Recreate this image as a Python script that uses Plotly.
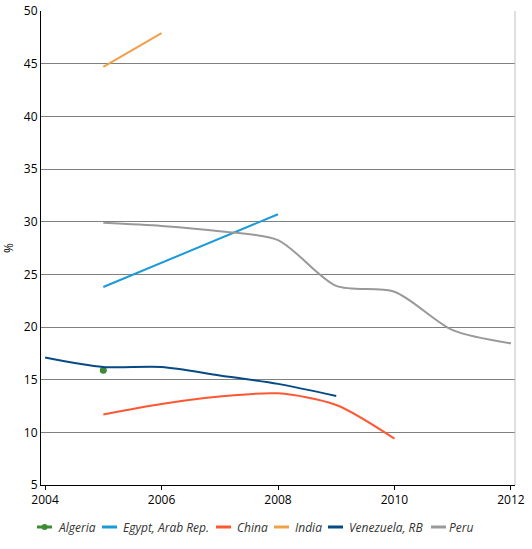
import plotly.graph_objects as go

years_algeria = [2005]
algeria = [15.9]

years_egypt = [2005, 2008]
egypt = [23.8, 30.7]

years_china = [2005, 2006, 2007, 2008, 2009, 2010]
china = [11.7, 12.7, 13.4, 13.7, 12.6, 9.4]

years_india = [2005, 2006]
india = [44.7, 47.9]

years_venezuela = [2004, 2005, 2006, 2007, 2008, 2009]
venezuela = [17.1, 16.2, 16.2, 15.4, 14.6, 13.45]

years_peru = [2005, 2006, 2007, 2008, 2009, 2010, 2011, 2012]
peru = [29.9, 29.6, 29.1, 28.25, 23.9, 23.35, 19.7, 18.45]

x_ticks = [2004, 2006, 2008, 2010, 2012]
y_ticks = [5, 10, 15, 20, 25, 30, 35, 40, 45, 50]

names = ["Algeria", "Egypt, Arab Rep.", "China", "India", "Venezuela, RB", "Peru"]
colors = ["#3f8a34", "#1a9ad8", "#ff5733", "#f0a048", "#054a85", "#999999"]
xs_all = [years_algeria, years_egypt, years_china, years_india, years_venezuela, years_peru]
ys_all = [algeria, egypt, china, india, venezuela, peru]

# layout geometry (pixels)
W, H = 532, 549
ML, MR, MT, MB = 41, 17, 11, 64
PW, PH = W - ML - MR, H - MT - MB

def px(x):
    return (x - ML) / PW

def py(y):
    return (H - MB - y) / PH

legend_sym_left = [37, 102, 216, 274, 328, 431]
legend_text_left = [58, 123, 237, 295, 349, 449]
legend_y = 527

fig = go.Figure()
for name, xs, ys, col in zip(names, xs_all, ys_all, colors):
    if name == "Algeria":
        fig.add_trace(go.Scatter(x=xs, y=ys, name=name, mode="markers",
                                 marker=dict(color=col, size=7)))
    else:
        fig.add_trace(go.Scatter(x=xs, y=ys, name=name, mode="lines",
                                 line=dict(color=col, width=2, shape="spline", smoothing=0.8)))

shapes = [dict(type="line", xref="paper", yref="paper", x0=1, x1=1, y0=0, y1=1,
               line=dict(color="#c0c0c0", width=1))]
annotations = []
for name, col, sl, tl in zip(names, colors, legend_sym_left, legend_text_left):
    shapes.append(dict(type="line", xref="paper", yref="paper",
                       x0=px(sl), x1=px(sl + 15), y0=py(legend_y), y1=py(legend_y),
                       line=dict(color=col, width=3)))
    if name == "Algeria":
        shapes.append(dict(type="circle", xref="paper", yref="paper",
                           x0=px(sl + 4.5), x1=px(sl + 10.5), y0=py(legend_y + 3), y1=py(legend_y - 3),
                           fillcolor=col, line=dict(color=col, width=0)))
    annotations.append(dict(text=name, xref="paper", yref="paper", x=px(tl - 2), y=py(legend_y),
                            xanchor="left", yanchor="middle", showarrow=False,
                            font=dict(size=12, color="#333", style="italic")))

fig.update_layout(
    width=W, height=H,
    margin=dict(l=ML, r=MR, t=MT, b=MB),
    paper_bgcolor="white", plot_bgcolor="white",
    font=dict(family="Open Sans, Noto Sans, sans-serif", size=12, color="#000"),
    showlegend=False,
    xaxis=dict(range=[2003.93, 2012.07], tickvals=x_ticks, ticktext=[str(v) for v in x_ticks],
               showgrid=False, showline=True, linecolor="#000", linewidth=1,
               ticks="outside", ticklen=4, tickcolor="#000", mirror=False, zeroline=False,
               tickfont=dict(size=12), automargin=False),
    yaxis=dict(range=[5, 50], tickvals=y_ticks, showgrid=True, gridcolor="#808080", gridwidth=1,
               showline=True, linecolor="#000", linewidth=1, ticks="", zeroline=False,
               title=dict(text="%", font=dict(size=12)), automargin=False,
               tickfont=dict(size=12)),
    shapes=shapes,
    annotations=annotations,
)

fig.write_html("out.html", config={"displayModeBar": False},
               post_script="document.body.style.margin='0';document.body.style.overflow='hidden';")
